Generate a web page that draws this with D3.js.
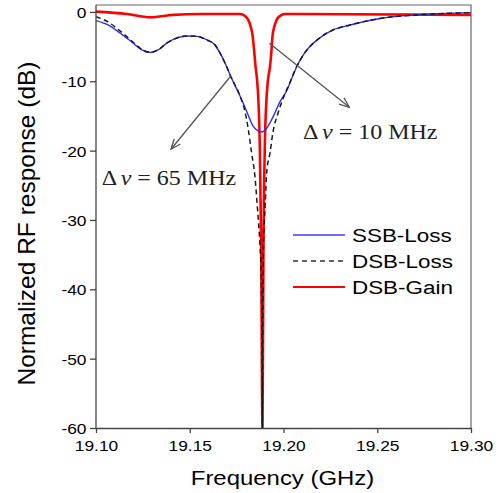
<!DOCTYPE html>
<html>
<head>
<meta charset="utf-8">
<script src="https://cdn.jsdelivr.net/npm/d3@7"></script>
<style>
  body { margin: 0; background: #fff; }
  svg text { font-family: "Liberation Sans", Arial, Helvetica, sans-serif; }
</style>
</head>
<body>
<div id="vizcontainer"></div>
<script>
const
  width = 500,
  height = 493,
  margin = { left: 96, right: 29, top: 5, bottom: 65 }
  ;

// SSB-Loss (blue)
const ssbFreq = [19.1000, 19.1064, 19.1128, 19.1197, 19.1245, 19.1288, 19.1331, 19.1379, 19.1432, 19.1485,
  19.1539, 19.1592, 19.1635, 19.1661, 19.1688, 19.1720, 19.1768, 19.1805, 19.1837, 19.1864, 19.1885,
  19.1907, 19.1944, 19.1981, 19.2019, 19.2045, 19.2072, 19.2099, 19.2125, 19.2179, 19.2264, 19.2355,
  19.2531, 19.2712, 19.3000];
const ssbLoss = [-1.25, -1.88, -3.03, -4.47, -5.48, -5.84, -5.48, -4.47, -3.75, -3.46,
  -3.53, -4.04, -4.76, -5.91, -7.36, -9.38, -12.12, -14.42, -16.44, -17.16, -17.31,
  -16.88, -15.14, -12.98, -11.25, -9.52, -7.79, -6.49, -5.48, -4.04, -2.60, -1.88,
  -0.87, -0.43, -0.10];

// DSB-Loss (black dashed)
const dsbFreq = [19.1000, 19.1064, 19.1128, 19.1197, 19.1245, 19.1288, 19.1331, 19.1379, 19.1432, 19.1485,
  19.1539, 19.1592, 19.1635, 19.1661, 19.1688, 19.1720, 19.1768, 19.1795, 19.1811, 19.1830, 19.1848,
  19.1859, 19.1867, 19.1875, 19.1882, 19.1885, 19.1887, 19.1889, 19.1891, 19.1893, 19.1897, 19.1903,
  19.1910, 19.1928, 19.1944, 19.1971, 19.1997, 19.2035, 19.2072, 19.2099, 19.2125, 19.2179, 19.2264,
  19.2355, 19.2531, 19.2712, 19.3000];
const dsbLoss = [-0.68, -1.44, -2.74, -4.33, -5.41, -5.84, -5.48, -4.47, -3.75, -3.46,
  -3.53, -4.04, -4.76, -5.91, -7.36, -9.38, -12.12, -14.42, -16.73, -20.34, -23.80,
  -27.55, -30.43, -33.89, -38.65, -47.31, -60.0, -47.31, -38.65, -33.89, -31.01, -27.55,
  -23.22, -20.34, -17.31, -14.57, -12.55, -10.10, -7.79, -6.49, -5.48, -4.04, -2.60,
  -1.88, -0.87, -0.43, -0.10];

// DSB-Gain (red)
const gainFreq = [19.1000, 19.1165, 19.1288, 19.1411, 19.1555, 19.1768, 19.1795, 19.1812, 19.1825, 19.1836,
  19.1843, 19.1851, 19.1859, 19.1866, 19.1874, 19.1881, 19.1888, 19.1893, 19.1900, 19.1909, 19.1917,
  19.1928, 19.1936, 19.1941, 19.1951, 19.1963, 19.1981, 19.2008, 19.2088, 19.3000];
const gainDb = [0.04, -0.29, -0.76, -0.43, -0.29, -0.29, -0.58, -1.15, -2.12, -3.56,
  -5.48, -7.89, -9.81, -12.69, -19.90, -34.33, -60.0, -34.33, -19.90, -12.69, -9.81,
  -7.89, -5.48, -3.56, -2.12, -1.15, -0.58, -0.29, -0.29, -0.43];

const xTicks = [19.10, 19.15, 19.20, 19.25, 19.30];
const yTicks = [0, -10, -20, -30, -40, -50, -60];

const seriesNames = ['SSB-Loss', 'DSB-Loss', 'DSB-Gain'];

// annotations: [f0, dB0, f1, dB1] and label anchors
const arrowPts = [[19.1720, -9.2, 19.1400, -19.8], [19.1925, -4.5, 19.2351, -13.75]];
const labelPos = [[19.1030, -24.95, '65'], [19.2104, -18.3, '10']];

let xScale = d3.scaleLinear()
  .domain([19.10, 19.30])
  .range([margin.left, width - margin.right]);

let yScale = d3.scaleLinear()
  .domain([-60, 1])
  .range([height - margin.bottom, margin.top]);

let viz = d3.select('#vizcontainer')
  .append('svg')
  .attr('width', width)
  .attr('height', height)
  .attr('xmlns', 'http://www.w3.org/2000/svg');

viz.append('defs').append('clipPath').attr('id', 'clip')
  .append('rect')
  .attr('x', margin.left).attr('y', margin.top)
  .attr('width', width - margin.left - margin.right)
  .attr('height', height - margin.top - margin.bottom);

viz.append('defs').append('marker')
  .attr('id', 'head')
  .attr('viewBox', '0 0 12 10')
  .attr('refX', 11).attr('refY', 5)
  .attr('markerWidth', 12).attr('markerHeight', 10)
  .attr('markerUnits', 'userSpaceOnUse')
  .attr('orient', 'auto')
  .append('path')
  .attr('d', 'M1,1 L11,5 L1,9')
  .attr('fill', 'none')
  .attr('stroke', '#555')
  .attr('stroke-width', 1.3);

// frame (top / right)
viz.append('path')
  .attr('d', `M${xScale(19.10)},${margin.top}H${xScale(19.30)}V${yScale(-60)}`)
  .attr('fill', 'none')
  .attr('stroke', '#666')
  .attr('stroke-width', 1.2);

let line = (fs, vs) => d3.line()
  .x(i => xScale(fs[i]))
  .y(i => yScale(vs[i]))
  .curve(d3.curveMonotoneX)(d3.range(fs.length));

let curves = viz.append('g').attr('clip-path', 'url(#clip)');

curves.append('path')
  .attr('d', line(gainFreq, gainDb))
  .attr('fill', 'none')
  .attr('stroke', '#ff0000')
  .attr('stroke-width', 2.6);

curves.append('path')
  .attr('d', line(ssbFreq, ssbLoss))
  .attr('fill', 'none')
  .attr('stroke', '#2a2aff')
  .attr('stroke-width', 1.4);

curves.append('path')
  .attr('d', line(dsbFreq, dsbLoss))
  .attr('fill', 'none')
  .attr('stroke', '#1a1a1a')
  .attr('stroke-width', 1.5)
  .attr('stroke-dasharray', '5,3.5');

// axes
let xAxis = viz.append('g')
  .attr('transform', `translate(0,${yScale(-60)})`)
  .call(d3.axisBottom(xScale).tickValues(xTicks).tickFormat(d3.format('.2f')).tickSize(5).tickSizeOuter(0));

let yAxis = viz.append('g')
  .attr('transform', `translate(${margin.left},0)`)
  .call(d3.axisLeft(yScale).tickValues(yTicks).tickFormat(d => String(d)).tickSize(6).tickSizeOuter(0));

[xAxis, yAxis].forEach(ax => {
  ax.select('.domain').attr('stroke', '#444').attr('stroke-width', 1.3);
  ax.selectAll('.tick line').attr('stroke', '#444').attr('stroke-width', 1.3);
  ax.selectAll('.tick text').attr('fill', '#000').style('font-size', '15.5px');
});
// y axis extends up to the frame
yAxis.select('.domain').attr('d', `M0,${margin.top}V${yScale(-60)}`);

xAxis.selectAll('.tick text')
  .attr('y', 0).attr('dy', 0)
  .attr('transform', 'translate(0,23) scale(1.12,1)');
yAxis.selectAll('.tick text')
  .attr('x', 0).attr('dy', 0)
  .attr('transform', 'translate(-9.5,5.5) scale(1.12,1)');

// axis titles
viz.append('text')
  .attr('transform', `translate(${(xScale(19.10) + xScale(19.30)) / 2 - 1},485) scale(1.14,1)`)
  .attr('text-anchor', 'middle')
  .style('font-size', '21px')
  .attr('fill', '#000')
  .text('Frequency (GHz)');

viz.append('text')
  .attr('transform', `translate(35,${(yScale(1) + yScale(-60)) / 2 + 7}) rotate(-90)`)
  .attr('text-anchor', 'middle')
  .style('font-size', '24.5px')
  .attr('fill', '#000')
  .text('Normalized RF response (dB)');

// annotation arrows
viz.append('g').selectAll('line')
  .data(arrowPts)
  .join('line')
  .attr('x1', d => xScale(d[0])).attr('y1', d => yScale(d[1]))
  .attr('x2', d => xScale(d[2])).attr('y2', d => yScale(d[3]))
  .attr('stroke', '#555')
  .attr('stroke-width', 1.3)
  .attr('marker-end', 'url(#head)');

let labels = viz.append('g').selectAll('text')
  .data(labelPos)
  .join('text')
  .attr('transform', d => `translate(${xScale(d[0])},${yScale(d[1])}) scale(1.2,1)`)
  .style('font-family', '"Liberation Serif", "Times New Roman", serif')
  .style('font-size', '20px')
  .attr('fill', '#222');
labels.append('tspan').text('\u0394');
labels.append('tspan').attr('dx', 3).style('font-style', 'italic').text('\u03bd');
labels.append('tspan').text(' = ');
labels.append('tspan').text(d => d[2] + ' MHz');

// legend
const legendColor = ['#3c3cff', '#333', '#ff0000'];
const legendDash = [null, '5,4', null];
const legendWidth = [1.3, 1.5, 1.8];
let legend = viz.append('g')
  .selectAll('g')
  .data(seriesNames)
  .join('g')
  .attr('transform', (d, i) => `translate(293,${235 + i * 26})`);

legend.append('line')
  .attr('x1', 0).attr('x2', 52)
  .attr('stroke', (d, i) => legendColor[i])
  .attr('stroke-width', (d, i) => legendWidth[i])
  .attr('stroke-dasharray', (d, i) => legendDash[i]);

legend.append('text')
  .attr('transform', 'translate(59,7) scale(1.18,1)')
  .style('font-size', '19px')
  .attr('fill', '#000')
  .text(d => d);

</script>
</body>
</html>
